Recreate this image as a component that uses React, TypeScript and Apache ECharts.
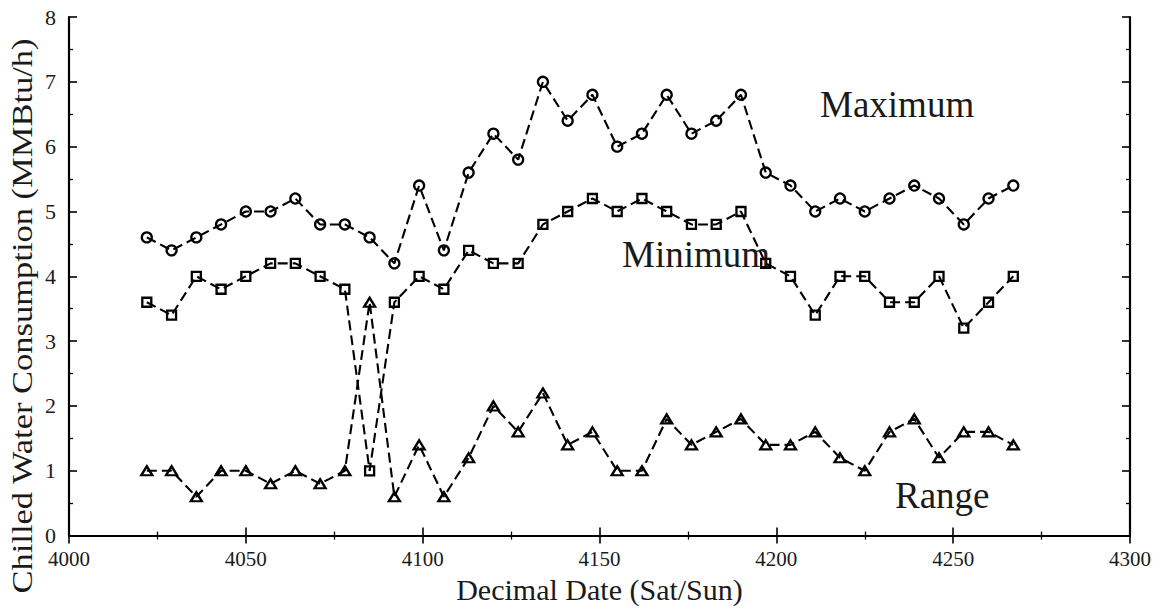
import React, { useEffect, useRef } from "react";
import * as echarts from "echarts";

const dates = [
  4022, 4029, 4036, 4043, 4050, 4057, 4064, 4071, 4078, 4085, 4092, 4099,
  4106, 4113, 4120, 4127, 4134, 4141, 4148, 4155, 4162, 4169, 4176, 4183,
  4190, 4197, 4204, 4211, 4218, 4225, 4232, 4239, 4246, 4253, 4260, 4267,
];
const maximum = [
  4.6, 4.4, 4.6, 4.8, 5.0, 5.0, 5.2, 4.8, 4.8, 4.6, 4.2, 5.4,
  4.4, 5.6, 6.2, 5.8, 7.0, 6.4, 6.8, 6.0, 6.2, 6.8, 6.2, 6.4,
  6.8, 5.6, 5.4, 5.0, 5.2, 5.0, 5.2, 5.4, 5.2, 4.8, 5.2, 5.4,
];
const minimum = [
  3.6, 3.4, 4.0, 3.8, 4.0, 4.2, 4.2, 4.0, 3.8, 1.0, 3.6, 4.0,
  3.8, 4.4, 4.2, 4.2, 4.8, 5.0, 5.2, 5.0, 5.2, 5.0, 4.8, 4.8,
  5.0, 4.2, 4.0, 3.4, 4.0, 4.0, 3.6, 3.6, 4.0, 3.2, 3.6, 4.0,
];
const range = [
  1.0, 1.0, 0.6, 1.0, 1.0, 0.8, 1.0, 0.8, 1.0, 3.6, 0.6, 1.4,
  0.6, 1.2, 2.0, 1.6, 2.2, 1.4, 1.6, 1.0, 1.0, 1.8, 1.4, 1.6,
  1.8, 1.4, 1.4, 1.6, 1.2, 1.0, 1.6, 1.8, 1.2, 1.6, 1.6, 1.4,
];
const seriesNames = ["Maximum", "Minimum", "Range"];
const xTitle = "Decimal Date (Sat/Sun)";
const yTitle = "Chilled Water Consumption (MMBtu/h)";

const FONT = "'Liberation Serif', 'Times New Roman', serif";
const INK = "#1a1a1a";

export default function App() {
  const ref = useRef<HTMLDivElement>(null);
  useEffect(() => {
    if (!ref.current) return;
    const chart = echarts.init(ref.current, undefined, { renderer: "svg" });
    const pair = (ys: number[]) => dates.map((d, i) => [d, ys[i]]);
    const lineStyle = { color: "#000", width: 2.1, type: [10, 5] as any };
    const mkSeries = (name: string, ys: number[], symbol: string, size: number | number[]) => ({
      name,
      type: "line",
      data: pair(ys),
      symbol,
      symbolSize: size,
      lineStyle,
      itemStyle: { color: "rgba(255,255,255,0)", borderColor: "#000", borderWidth: 2.3 },
      z: 3,
    });
    const baseAxis = {
      axisLine: { show: true, lineStyle: { color: "#000", width: 2.2 } },
      axisTick: { show: true, inside: true, length: 8, lineStyle: { color: "#000", width: 1.6 } },
      minorTick: { show: true, splitNumber: 2, length: 4, lineStyle: { color: "#000", width: 1.3 } },
      splitLine: { show: false },
      minorSplitLine: { show: false },
    };
    const textStyle = (size: number) => ({
      fontFamily: FONT,
      fontSize: size,
      lineHeight: size,
      fill: INK,
      textAlign: "left",
      textVerticalAlign: "middle",
      align: "left",
      verticalAlign: "middle",
    });
    chart.setOption({
      animation: false,
      backgroundColor: "#fff",
      textStyle: { fontFamily: FONT, color: INK },
      grid: { left: 69, right: 37, top: 17, bottom: 62, containLabel: false },
      xAxis: [
        {
          ...baseAxis,
          type: "value",
          min: 4000,
          max: 4300,
          interval: 50,
          name: xTitle,
          nameLocation: "middle",
          nameGap: 25,
          nameTextStyle: { fontFamily: FONT, fontSize: 30, color: INK },
          axisLabel: {
            fontFamily: FONT,
            fontSize: 21,
            lineHeight: 18,
            color: INK,
            margin: 14,
            formatter: (v: number) => String(v),
          },
        },
        {
          ...baseAxis,
          type: "value",
          position: "top",
          min: 4000,
          max: 4300,
          interval: 50,
          axisLabel: { show: false },
        },
      ],
      yAxis: [
        {
          ...baseAxis,
          type: "value",
          min: 0,
          max: 8,
          interval: 1,
          axisLabel: { fontFamily: FONT, fontSize: 22, lineHeight: 18, color: INK, margin: 13 },
        },
        {
          ...baseAxis,
          type: "value",
          position: "right",
          min: 0,
          max: 8,
          interval: 1,
          axisLabel: { show: false },
        },
      ],
      series: [
        mkSeries(seriesNames[0], maximum, "circle", 10),
        mkSeries(seriesNames[1], minimum, "rect", 9),
        mkSeries(seriesNames[2], range, "triangle", [11, 9]),
      ],
      graphic: [
        {
          type: "text",
          x: 22,
          y: 316,
          rotation: Math.PI / 2,
          scaleX: 1.15,
          style: { ...textStyle(30), text: yTitle, textAlign: "center", align: "center" },
        },
        { type: "text", x: 820, y: 104, style: { ...textStyle(37), text: seriesNames[0] } },
        { type: "text", x: 622, y: 254, style: { ...textStyle(37), text: seriesNames[1] } },
        { type: "text", x: 895, y: 495, style: { ...textStyle(37), text: seriesNames[2] } },
      ],
    });
    return () => chart.dispose();
  }, []);
  return (
    <div
      ref={ref}
      style={{ position: "fixed", left: 0, top: 0, width: 1167, height: 609, background: "#fff" }}
    />
  );
}
